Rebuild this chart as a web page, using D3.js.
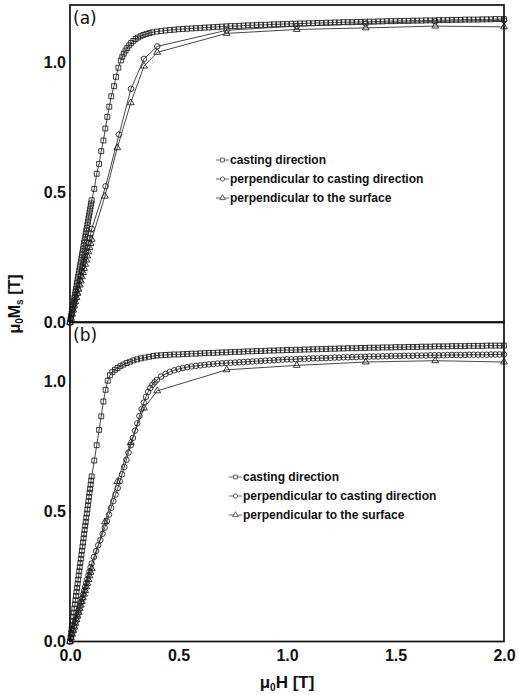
<!DOCTYPE html>
<html>
<head>
<meta charset="utf-8">
<script src="https://cdn.jsdelivr.net/npm/d3@7.9.0/dist/d3.min.js"></script>
<style>
  body { margin: 0; background: #fff; }
  svg { display: block; }
  .tick text { font-family: "Liberation Sans", Arial, sans-serif; font-weight: bold; font-size: 16px; fill: #111; }
  .legend text { font-family: "Liberation Sans", Arial, sans-serif; font-weight: bold; font-size: 12px; fill: #111; }
</style>
</head>
<body>
<svg id="chart" width="519" height="695"></svg>
<script>
// [mu0H (T), mu0Ms (T)]
const castA = [
  [0,0],[.0025,.012],[.005,.024],[.0075,.035],[.01,.047],[.0125,.059],[.015,.071],[.0175,.082],[.02,.094],[.0225,.106],
  [.025,.118],[.0275,.129],[.03,.141],[.0325,.153],[.035,.165],[.0375,.176],[.04,.188],[.0425,.2],[.045,.212],[.0475,.223],
  [.05,.235],[.0525,.247],[.055,.259],[.0575,.27],[.06,.282],[.0625,.294],[.065,.306],[.0675,.317],[.07,.329],[.0725,.341],
  [.075,.353],[.0775,.364],[.08,.376],[.0825,.388],[.085,.4],[.0875,.411],[.09,.423],[.0925,.435],[.095,.447],[.0975,.458],[.1,.47],
  [.112,.514],[.123,.572],[.134,.61],[.144,.659],[.154,.7],[.163,.746],[.172,.791],[.181,.83],[.19,.87],[.203,.909],
  [.212,.945],[.223,.98],[.234,1.008],[.241,1.022],[.248,1.034],[.256,1.046],[.264,1.056],[.273,1.066],[.282,1.075],[.292,1.083],
  [.302,1.09],[.313,1.096],[.325,1.101],[.338,1.106],[.352,1.11],[.366,1.113],
  [.38,1.116],[.4,1.119],[.42,1.121],[.44,1.123],[.46,1.125],[.48,1.126],[.5,1.128],[.52,1.129],[.54,1.13],[.56,1.131],
  [.58,1.132],[.6,1.133],[.62,1.134],[.64,1.135],[.66,1.136],[.68,1.137],[.7,1.138],[.72,1.139],[.74,1.14],[.76,1.14],
  [.78,1.141],[.8,1.142],[.82,1.143],[.84,1.143],[.86,1.144],[.88,1.145],[.9,1.145],[.92,1.146],[.94,1.147],[.96,1.147],
  [.98,1.148],[1,1.148],[1.02,1.149],[1.04,1.149],[1.06,1.15],[1.08,1.15],[1.1,1.151],[1.12,1.151],[1.14,1.152],[1.16,1.152],
  [1.18,1.153],[1.2,1.153],[1.22,1.154],[1.24,1.154],[1.26,1.155],[1.28,1.155],[1.3,1.155],[1.32,1.156],[1.34,1.156],[1.36,1.157],
  [1.38,1.157],[1.4,1.157],[1.42,1.158],[1.44,1.158],[1.46,1.159],[1.48,1.159],[1.5,1.159],[1.52,1.16],[1.54,1.16],[1.56,1.16],
  [1.58,1.161],[1.6,1.161],[1.62,1.161],[1.64,1.162],[1.66,1.162],[1.68,1.162],[1.7,1.163],[1.72,1.163],[1.74,1.163],[1.76,1.164],
  [1.78,1.164],[1.8,1.164],[1.82,1.165],[1.84,1.165],[1.86,1.165],[1.88,1.165],[1.9,1.166],[1.92,1.166],[1.94,1.166],[1.96,1.167],
  [1.98,1.167],[2,1.167]
];
const perpA = [
  [0,0],[.005,.018],[.01,.036],[.015,.054],[.02,.072],[.025,.09],[.03,.108],[.035,.126],[.04,.144],[.045,.162],
  [.05,.18],[.055,.198],[.06,.216],[.065,.234],[.07,.252],[.075,.27],[.08,.288],[.085,.306],[.09,.324],[.095,.342],[.1,.36],
  [.164,.524],[.226,.723],[.281,.899],[.341,1.014],[.402,1.062],[.722,1.124],[1.045,1.14],[1.363,1.15],[1.683,1.158],[2,1.162]
];
const surfA = [
  [0,0],[.005,.016],[.01,.032],[.015,.048],[.02,.064],[.025,.08],[.03,.096],[.035,.112],[.04,.128],[.045,.144],
  [.05,.16],[.055,.176],[.06,.192],[.065,.208],[.07,.224],[.075,.24],[.08,.256],[.085,.272],[.09,.288],[.095,.304],[.1,.32],
  [.161,.486],[.218,.672],[.28,.845],[.341,.986],[.402,1.039],[.722,1.112],[1.045,1.127],[1.363,1.133],[1.683,1.14],[2,1.137]
];
const castB = [
  [0,0],[.0025,.016],[.005,.032],[.0075,.048],[.01,.064],[.0125,.079],[.015,.095],[.0175,.111],[.02,.127],[.0225,.143],
  [.025,.159],[.0275,.175],[.03,.191],[.0325,.206],[.035,.222],[.0375,.238],[.04,.254],[.0425,.27],[.045,.286],[.0475,.302],
  [.05,.318],[.0525,.333],[.055,.349],[.0575,.365],[.06,.381],[.0625,.397],[.065,.413],[.0675,.429],[.07,.445],[.0725,.46],
  [.075,.476],[.0775,.492],[.08,.508],[.0825,.524],[.085,.54],[.0875,.556],[.09,.572],[.0925,.587],[.095,.603],[.0975,.619],[.1,.635],
  [.112,.696],[.123,.755],[.134,.814],[.144,.866],[.154,.923],[.164,.968],[.174,1.003],[.184,1.024],[.195,1.036],[.207,1.045],
  [.219,1.052],[.232,1.059],[.246,1.065],[.261,1.071],[.276,1.076],[.292,1.081],[.309,1.085],[.327,1.089],[.345,1.092],[.364,1.095],[.383,1.098],
  [.4,1.1],[.42,1.101],[.44,1.102],[.46,1.103],[.48,1.104],[.5,1.104],[.52,1.105],[.54,1.106],[.56,1.107],[.58,1.107],
  [.6,1.108],[.62,1.109],[.64,1.11],[.66,1.11],[.68,1.111],[.7,1.112],[.72,1.112],[.74,1.113],[.76,1.114],[.78,1.114],
  [.8,1.115],[.82,1.116],[.84,1.116],[.86,1.117],[.88,1.117],[.9,1.118],[.92,1.119],[.94,1.119],[.96,1.12],[.98,1.12],
  [1,1.121],[1.02,1.121],[1.04,1.122],[1.06,1.122],[1.08,1.123],[1.1,1.123],[1.12,1.124],[1.14,1.124],[1.16,1.125],[1.18,1.125],
  [1.2,1.126],[1.22,1.126],[1.24,1.127],[1.26,1.127],[1.28,1.128],[1.3,1.128],[1.32,1.128],[1.34,1.129],[1.36,1.129],[1.38,1.13],
  [1.4,1.13],[1.42,1.13],[1.44,1.131],[1.46,1.131],[1.48,1.131],[1.5,1.132],[1.52,1.132],[1.54,1.132],[1.56,1.133],[1.58,1.133],
  [1.6,1.133],[1.62,1.134],[1.64,1.134],[1.66,1.134],[1.68,1.135],[1.7,1.135],[1.72,1.135],[1.74,1.135],[1.76,1.136],[1.78,1.136],
  [1.8,1.136],[1.82,1.136],[1.84,1.137],[1.86,1.137],[1.88,1.137],[1.9,1.137],[1.92,1.138],[1.94,1.138],[1.96,1.138],[1.98,1.138],[2,1.138]
];
const perpB = [
  [0,0],[.005,.015],[.01,.03],[.015,.045],[.02,.06],[.025,.075],[.03,.09],[.035,.105],[.04,.12],[.045,.135],
  [.05,.15],[.055,.165],[.06,.18],[.065,.195],[.07,.21],[.075,.225],[.08,.24],[.085,.255],[.09,.27],[.095,.285],[.1,.3],
  [.11,.325],[.12,.348],[.13,.37],[.14,.39],[.15,.414],[.16,.438],[.17,.463],[.18,.488],[.19,.514],[.2,.54],
  [.21,.565],[.22,.59],[.23,.616],[.24,.643],[.25,.671],[.26,.699],[.27,.727],[.28,.755],[.29,.783],[.3,.811],
  [.31,.839],[.32,.867],[.33,.894],[.34,.919],[.35,.941],[.36,.96],[.37,.975],[.38,.987],[.39,.997],[.4,1.006],
  [.42,1.019],[.44,1.029],[.46,1.037],[.48,1.043],[.5,1.048],[.52,1.052],[.54,1.055],[.56,1.058],[.58,1.06],[.6,1.062],
  [.62,1.064],[.64,1.066],[.66,1.067],[.68,1.069],[.7,1.07],[.72,1.071],[.74,1.072],[.76,1.073],[.78,1.074],[.8,1.075],
  [.82,1.076],[.84,1.077],[.86,1.078],[.88,1.079],[.9,1.08],[.92,1.081],[.94,1.082],[.96,1.083],[.98,1.084],[1,1.085],
  [1.02,1.085],[1.04,1.086],[1.06,1.087],[1.08,1.087],[1.1,1.088],[1.12,1.089],[1.14,1.089],[1.16,1.09],[1.18,1.09],[1.2,1.091],
  [1.22,1.092],[1.24,1.092],[1.26,1.093],[1.28,1.093],[1.3,1.094],[1.32,1.094],[1.34,1.095],[1.36,1.095],[1.38,1.096],[1.4,1.096],
  [1.42,1.096],[1.44,1.097],[1.46,1.097],[1.48,1.098],[1.5,1.098],[1.52,1.098],[1.54,1.099],[1.56,1.099],[1.58,1.099],[1.6,1.1],
  [1.62,1.1],[1.64,1.1],[1.66,1.101],[1.68,1.101],[1.7,1.101],[1.72,1.101],[1.74,1.102],[1.76,1.102],[1.78,1.102],[1.8,1.102],
  [1.82,1.102],[1.84,1.103],[1.86,1.103],[1.88,1.103],[1.9,1.103],[1.92,1.103],[1.94,1.104],[1.96,1.104],[1.98,1.104],[2,1.104]
];
const surfB = [
  [0,0],[.005,.014],[.01,.028],[.015,.042],[.02,.056],[.025,.07],[.03,.084],[.035,.098],[.04,.112],[.045,.126],
  [.05,.14],[.055,.154],[.06,.168],[.065,.182],[.07,.196],[.075,.21],[.08,.224],[.085,.238],[.09,.252],[.095,.266],[.1,.28],
  [.161,.46],[.218,.615],[.28,.765],[.341,.898],[.402,.964],[.722,1.045],[1.045,1.062],[1.363,1.075],[1.683,1.08],[2,1.075]
];

const seriesNames = ["casting direction", "perpendicular to casting direction", "perpendicular to the surface"];
const panelLabels = ["(a)", "(b)"];
const xTicks = [0, 0.5, 1.0, 1.5, 2.0];
const yTicks = [0, 0.5, 1.0];

const svg = d3.select("#chart");
const x = d3.scaleLinear().domain([0, 2]).range([70, 504]);
const fmt = d3.format(".1f");
const symbols = [d3.symbolSquare, d3.symbolCircle, d3.symbolTriangle];
const symbolSizes = [24, 24, 20];

const panels = [
  { top: 5, base: 322.5, legend: [216, 160], data: [castA, perpA, surfA] },
  { top: 322, base: 641.5, legend: [229, 477], data: [castB, perpB, surfB] }
];

panels.forEach((p, pi) => {
  const y = d3.scaleLinear().domain([0, 1]).range([p.base, p.base - 260]);
  const g = svg.append("g");

  const line = d3.line().x(d => x(d[0])).y(d => y(d[1]));

  p.data.forEach((s, si) => {
    g.append("path")
      .attr("d", line(s))
      .attr("fill", "none")
      .attr("stroke", "#333")
      .attr("stroke-width", 0.9);

    g.selectAll(null)
      .data(s)
      .join("path")
      .attr("transform", d => `translate(${x(d[0])},${y(d[1])})`)
      .attr("d", d3.symbol(symbols[si], symbolSizes[si]))
      .attr("fill", "none")
      .attr("stroke", "#1a1a1a")
      .attr("stroke-width", 0.85);
  });

  // frame
  g.append("rect")
    .attr("x", x(0)).attr("y", p.top)
    .attr("width", x(2) - x(0)).attr("height", p.base - p.top)
    .attr("fill", "none").attr("stroke", "#111").attr("stroke-width", 1.7);

  const yAxis = g.append("g")
    .attr("transform", `translate(${x(0)},0)`)
    .call(d3.axisLeft(y).tickValues(yTicks).tickSize(0).tickPadding(4).tickFormat(fmt));
  yAxis.select(".domain").remove();

  if (pi === 1) {
    const xAxis = g.append("g")
      .attr("transform", `translate(0,${p.base})`)
      .call(d3.axisBottom(x).tickValues(xTicks).tickSize(0).tickPadding(8).tickFormat(fmt));
    xAxis.select(".domain").remove();
  }

  g.append("text")
    .attr("x", 73).attr("y", p.top + 19)
    .attr("font-family", "DejaVu Sans, sans-serif")
    .attr("font-size", 17)
    .attr("fill", "#111")
    .text(panelLabels[pi]);

  // legend
  const lg = g.append("g").attr("class", "legend")
    .attr("transform", `translate(${p.legend[0]},${p.legend[1]})`);
  seriesNames.forEach((name, si) => {
    const row = lg.append("g").attr("transform", `translate(0,${si * 19})`);
    row.append("line").attr("x1", 0).attr("x2", 13).attr("y1", 0).attr("y2", 0)
      .attr("stroke", "#444").attr("stroke-width", 0.8);
    row.append("path").attr("transform", "translate(6.5,0)")
      .attr("d", d3.symbol(symbols[si], 14))
      .attr("fill", "#fff").attr("stroke", "#222").attr("stroke-width", 0.7);
    row.append("text").attr("x", 14).attr("dy", "0.35em").text(name);
  });
});

// axis titles
const yLab = svg.append("text")
  .attr("transform", "translate(20,304) rotate(-90)")
  .attr("text-anchor", "middle")
  .attr("font-family", "Liberation Sans, Arial, sans-serif")
  .attr("font-weight", "bold")
  .attr("font-size", 16)
  .attr("fill", "#111");
yLab.append("tspan").text("\u03bc");
yLab.append("tspan").attr("font-size", 10).attr("dy", 3).text("0");
yLab.append("tspan").attr("dy", -3).text("M");
yLab.append("tspan").attr("font-size", 10).attr("dy", 3).text("s");
yLab.append("tspan").attr("dy", -3).text(" [T]");

const xLab = svg.append("text")
  .attr("x", 287).attr("y", 688)
  .attr("text-anchor", "middle")
  .attr("font-family", "Liberation Sans, Arial, sans-serif")
  .attr("font-weight", "bold")
  .attr("font-size", 17)
  .attr("fill", "#111");
xLab.append("tspan").text("\u03bc");
xLab.append("tspan").attr("font-size", 10).attr("dy", 3).text("0");
xLab.append("tspan").attr("dy", -3).text("H [T]");
</script>
</body>
</html>
